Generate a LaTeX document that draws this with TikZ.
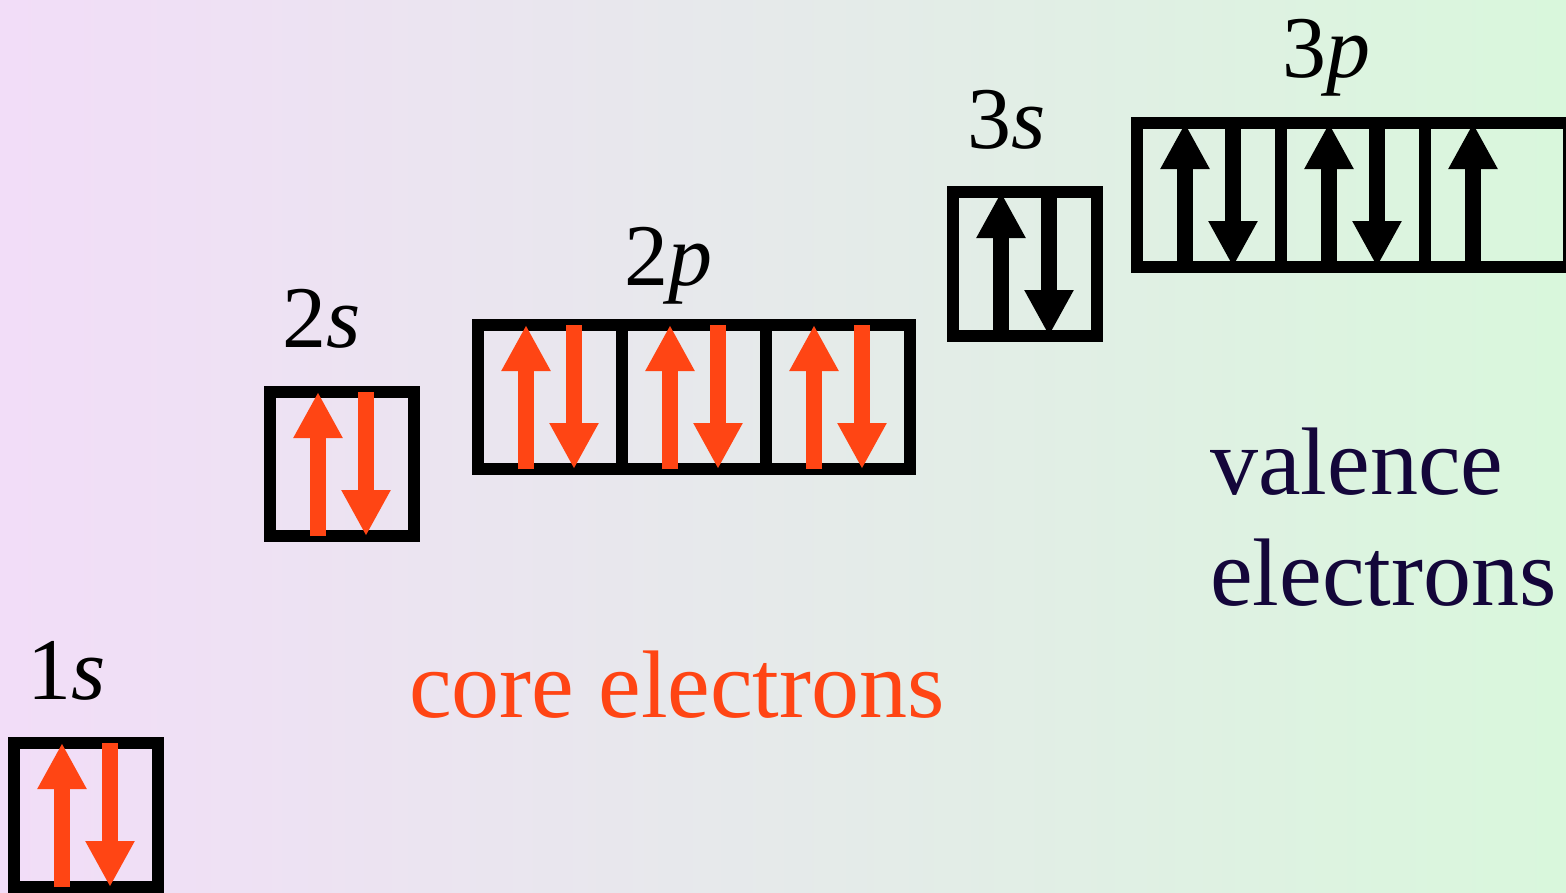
\documentclass[tikz,border=0pt]{standalone}
\usepackage{fontspec}
\setmainfont{Liberation Serif}
\usetikzlibrary{arrows.meta}
\definecolor{coreorange}{RGB}{255,69,20}
\definecolor{valnavy}{RGB}{20,6,58}
\definecolor{bgpink}{RGB}{242,221,248}
\definecolor{bggreen}{RGB}{217,247,220}
\tikzset{>={Triangle[width=46pt,length=46pt]}}
\tikzset{orb/.style={draw,line width=12pt,minimum size=144pt,inner sep=0pt,outer sep=0pt},
  spin/.style={->,line width=16pt},
  lbl/.style={font=\fontsize{88}{100}\selectfont,anchor=base,inner sep=0pt}}

\begin{document}
\begin{tikzpicture}[x=1pt,y=-1pt]
  \shade[left color=bgpink,right color=bggreen] (0,0) rectangle (1566,892);
  \useasboundingbox (0,0) rectangle (1566,892);
  % orbital boxes
  \node[orb] (s1) at (86,815) {};
  \node[orb] (s2) at (342,464) {};
  \node[orb] (px2) at (550,397) {};
  \node[orb] (py2) at (694,397) {};
  \node[orb] (pz2) at (838,397) {};
  \node[orb] (s3) at (1025,264) {};
  \node[orb] (px3) at (1209,195) {};
  \node[orb] (py3) at (1353,195) {};
  \node[orb] (pz3) at (1497,195) {};
  % labels
  \node[lbl] (l1s) at (67,699) {1\textit{s}};
  \node[lbl] (l2s) at (322,347) {2\textit{s}};
  \node[lbl] (l2p) at (668,285) {2\textit{p}};
  \node[lbl] (l3s) at (1007,148) {3\textit{s}};
  \node[lbl] (l3p) at (1326,77) {3\textit{p}};
  % core electrons
  \draw[spin,coreorange] ([xshift=-24pt]s1.south) -- ([xshift=-24pt]s1.north);
  \draw[spin,coreorange] ([xshift=24pt]s1.north) -- ([xshift=24pt]s1.south);
  \draw[spin,coreorange] ([xshift=-24pt]s2.south) -- ([xshift=-24pt]s2.north);
  \draw[spin,coreorange] ([xshift=24pt]s2.north) -- ([xshift=24pt]s2.south);
  \draw[spin,coreorange] ([xshift=-24pt]px2.south) -- ([xshift=-24pt]px2.north);
  \draw[spin,coreorange] ([xshift=24pt]px2.north) -- ([xshift=24pt]px2.south);
  \draw[spin,coreorange] ([xshift=-24pt]py2.south) -- ([xshift=-24pt]py2.north);
  \draw[spin,coreorange] ([xshift=24pt]py2.north) -- ([xshift=24pt]py2.south);
  \draw[spin,coreorange] ([xshift=-24pt]pz2.south) -- ([xshift=-24pt]pz2.north);
  \draw[spin,coreorange] ([xshift=24pt]pz2.north) -- ([xshift=24pt]pz2.south);
  % valence electrons
  \draw[spin] ([xshift=-24pt]s3.south) -- ([xshift=-24pt]s3.north);
  \draw[spin] ([xshift=24pt]s3.north) -- ([xshift=24pt]s3.south);
  \draw[spin] ([xshift=-24pt]px3.south) -- ([xshift=-24pt]px3.north);
  \draw[spin] ([xshift=24pt]px3.north) -- ([xshift=24pt]px3.south);
  \draw[spin] ([xshift=-24pt]py3.south) -- ([xshift=-24pt]py3.north);
  \draw[spin] ([xshift=24pt]py3.north) -- ([xshift=24pt]py3.south);
  \draw[spin] ([xshift=-24pt]pz3.south) -- ([xshift=-24pt]pz3.north);
  % captions
  \node[anchor=base,inner sep=0pt,font=\fontsize{96}{111}\selectfont,text=coreorange] (core) at (677,717) {core electrons};
  \node[anchor=base west,inner sep=0pt,align=left,font=\fontsize{96}{111}\selectfont,text=valnavy] (val) at (1210,605) {valence\\electrons};
\end{tikzpicture}
\end{document}
